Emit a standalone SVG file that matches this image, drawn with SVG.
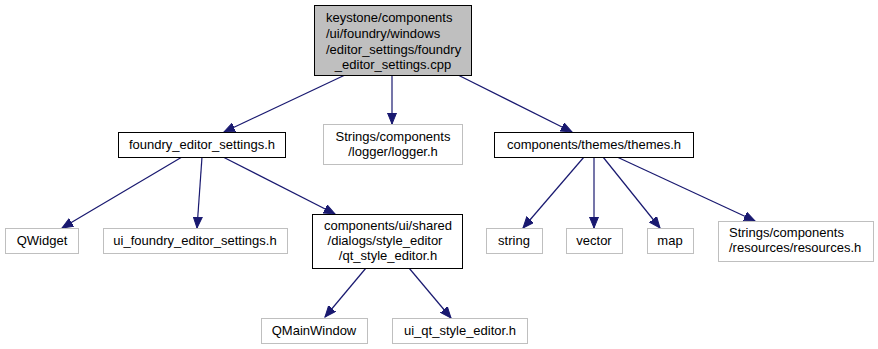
<svg xmlns="http://www.w3.org/2000/svg" width="878" height="349" viewBox="0 0 878 349">
<style>
text{font-family:"Liberation Sans",Arial,sans-serif;font-size:13px;fill:#000}
.n rect{fill:#fff;stroke:#bfbfbf;stroke-width:1}
.p rect{fill:#fff;stroke:#000;stroke-width:1}
.r rect{fill:#bfbfbf;stroke:#000;stroke-width:1}
.c{text-anchor:middle}
#edges path{fill:none;stroke:#191970;stroke-width:1.2;marker-end:url(#ah)}
</style>
<defs>
<marker id="ah" markerUnits="userSpaceOnUse" markerWidth="12" markerHeight="10" refX="11" refY="5" orient="auto">
<path d="M0,0.5 L11,5 L0,9.5 Z" fill="#191970" stroke="#191970"/>
</marker>
</defs>
<rect width="878" height="349" fill="#fff"/>
<g id="edges">
<path d="M345,75 L224,132"/>
<path d="M392,75 L392,124"/>
<path d="M458,75 L572,132"/>
<path d="M182,157 L62,228"/>
<path d="M202,157 L197,228"/>
<path d="M223,157 L335,214"/>
<path d="M584,157 L523,228"/>
<path d="M594,157 L594,228"/>
<path d="M603,157 L660,228"/>
<path d="M617,157 L755,221"/>
<path d="M366,268 L325,317"/>
<path d="M409,268 L451,318"/>
</g>
<g id="root" class="r">
<rect x="314.5" y="5.5" width="157" height="70"/>
<text x="326" y="22">keystone/components</text>
<text x="326" y="38">/ui/foundry/windows</text>
<text x="326" y="54">/editor_settings/foundry</text>
<text x="393" y="69" class="c">_editor_settings.cpp</text>
</g>
<g id="foundry_editor_settings_h" class="p">
<rect x="118.5" y="132.5" width="167" height="25"/>
<text x="202" y="149" class="c">foundry_editor_settings.h</text>
</g>
<g id="logger_h" class="n">
<rect x="323.5" y="124.5" width="139" height="40"/>
<text x="393" y="141" class="c">Strings/components</text>
<text x="393" y="156" class="c">/logger/logger.h</text>
</g>
<g id="themes_h" class="p">
<rect x="494.5" y="132.5" width="199" height="25"/>
<text x="594" y="149" class="c">components/themes/themes.h</text>
</g>
<g id="QWidget" class="n">
<rect x="5.5" y="228.5" width="73" height="25"/>
<text x="42" y="245" class="c">QWidget</text>
</g>
<g id="ui_foundry_editor_settings_h" class="n">
<rect x="103.5" y="228.5" width="184" height="25"/>
<text x="195" y="245" class="c">ui_foundry_editor_settings.h</text>
</g>
<g id="qt_style_editor_h" class="p">
<rect x="312.5" y="214.5" width="150" height="54"/>
<text x="388" y="230" class="c">components/ui/shared</text>
<text x="385" y="245" class="c">/dialogs/style_editor</text>
<text x="388" y="260" class="c">/qt_style_editor.h</text>
</g>
<g id="string" class="n">
<rect x="486.5" y="228.5" width="56" height="25"/>
<text x="514" y="245" class="c">string</text>
</g>
<g id="vector" class="n">
<rect x="566.5" y="228.5" width="56" height="25"/>
<text x="594" y="245" class="c">vector</text>
</g>
<g id="map" class="n">
<rect x="647.5" y="228.5" width="46" height="25"/>
<text x="670" y="245" class="c">map</text>
</g>
<g id="resources_h" class="n">
<rect x="718.5" y="221.5" width="155" height="40"/>
<text x="729" y="237">Strings/components</text>
<text x="729" y="252">/resources/resources.h</text>
</g>
<g id="QMainWindow" class="n">
<rect x="261.5" y="318.5" width="106" height="25"/>
<text x="314" y="335" class="c">QMainWindow</text>
</g>
<g id="ui_qt_style_editor_h" class="n">
<rect x="392.5" y="318.5" width="135" height="25"/>
<text x="460" y="335" class="c">ui_qt_style_editor.h</text>
</g>
</svg>
